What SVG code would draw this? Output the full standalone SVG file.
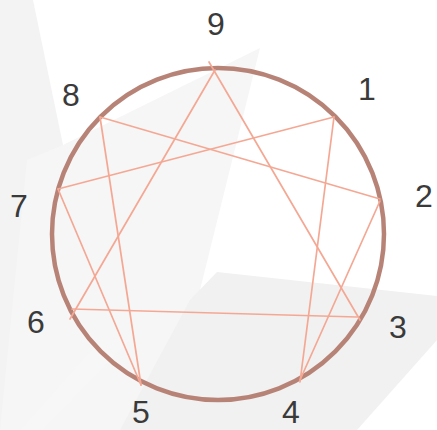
<svg xmlns="http://www.w3.org/2000/svg" width="437" height="430" viewBox="0 0 437 430">
  <style>
    .bg { stroke: none; }
    .edge { stroke: #f4a894; stroke-width: 1.7; fill: none; stroke-linecap: round; }
    .ring { stroke: #b88377; stroke-width: 4.5; fill: none; }
    .lbl { font-family: "Liberation Sans", Arial, sans-serif; font-size: 32px; fill: #3a3a3a; text-anchor: middle; }
  </style>
  <rect x="0" y="0" width="437" height="430" fill="#ffffff"/>
  <g id="background">
    <polygon class="bg" points="0,0 33,0 63,145 60,430 0,430" fill="#f3f3f3"/>
    <polygon class="bg" points="260,48 63,145 27,160 0,430 175,430 200,290" fill="#f6f6f6"/>
    <polygon class="bg" points="217,272 437,296 437,340 357,430 120,430 190,300" fill="#f1f1f1"/>
    <polygon class="bg" points="20,430 100,340 130,340 43,430" fill="#f7f7f7"/>
  </g>
  <g id="ring">
    <circle class="ring" cx="218" cy="234" r="166"/>
  </g>
  <g id="connectors">
    <line class="edge" x1="209" y1="62" x2="360" y2="320"/>
    <line class="edge" x1="215" y1="70" x2="70" y2="319"/>
    <line class="edge" x1="72" y1="309" x2="357" y2="317"/>
    <line class="edge" x1="334" y1="117" x2="58" y2="189"/>
    <line class="edge" x1="334" y1="117" x2="300" y2="382"/>
    <line class="edge" x1="380" y1="199" x2="100" y2="117"/>
    <line class="edge" x1="380" y1="201" x2="300" y2="380"/>
    <line class="edge" x1="141" y1="385" x2="100" y2="117"/>
    <line class="edge" x1="141" y1="385" x2="58" y2="189"/>
  </g>
  <g id="n9"><text class="lbl" x="216" y="35">9</text></g>
  <g id="n1"><text class="lbl" x="367" y="100">1</text></g>
  <g id="n2"><text class="lbl" x="424" y="207">2</text></g>
  <g id="n3"><text class="lbl" x="398" y="338">3</text></g>
  <g id="n4"><text class="lbl" x="291" y="423">4</text></g>
  <g id="n5"><text class="lbl" x="141" y="423">5</text></g>
  <g id="n6"><text class="lbl" x="36" y="333">6</text></g>
  <g id="n7"><text class="lbl" x="19" y="217">7</text></g>
  <g id="n8"><text class="lbl" x="71" y="106">8</text></g>
</svg>
